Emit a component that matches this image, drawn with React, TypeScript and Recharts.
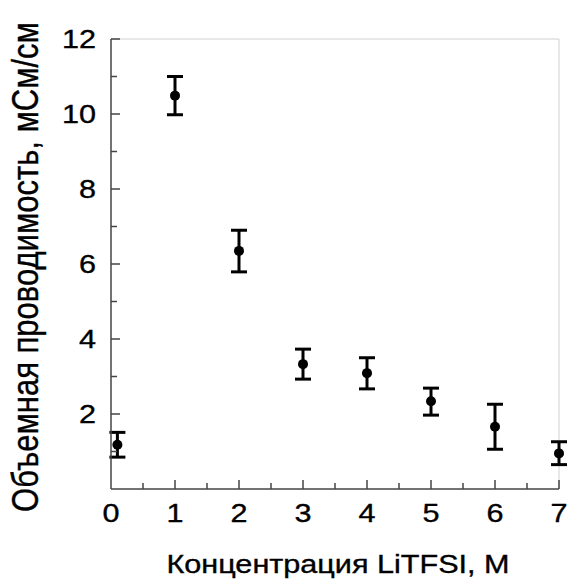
import React from 'react';
import { ScatterChart, Scatter, XAxis, YAxis, ErrorBar, ReferenceLine, Label } from 'recharts';

const concentrations = [0.1, 1, 2, 3, 4, 5, 6, 7];
const conductivity = [1.18, 10.49, 6.35, 3.33, 3.09, 2.34, 1.66, 0.95];
const errLow = [0.33, 0.51, 0.56, 0.4, 0.42, 0.37, 0.6, 0.3];
const errHigh = [0.33, 0.51, 0.55, 0.4, 0.41, 0.35, 0.6, 0.31];

const xTicks = [0, 0.5, 1, 1.5, 2, 2.5, 3, 3.5, 4, 4.5, 5, 5.5, 6, 6.5, 7];
const yTicks = [0, 1, 2, 3, 4, 5, 6, 7, 8, 9, 10, 11, 12];

const xTitle = 'Концентрация LiTFSI, M';
const yTitle = 'Объемная проводимость, мСм/см';

const data = concentrations.map((x, i) => ({
  x,
  y: conductivity[i],
  err: [errLow[i], errHigh[i]],
}));

const FONT = '"Liberation Sans", Arial, Helvetica, sans-serif';
const AXIS = '#444';
const SX = 1.2;
const TXT = { fontFamily: FONT, fill: '#000', stroke: '#000', strokeWidth: 0.35 };

const YTick = (props: any) => {
  const { x, y, payload } = props;
  const v = payload.value;
  if (v === 0) return <g />;
  const major = v % 2 === 0;
  return (
    <g>
      <line x1={x} x2={x + (major ? 9 : 6)} y1={y} y2={y} stroke={AXIS} strokeWidth={1.5} />
      {major && (
        <text
          transform={`translate(${x - 15},${y + 9}) scale(${SX},1)`}
          textAnchor="end"
          fontSize={25.5}
          {...TXT}
        >
          {v}
        </text>
      )}
    </g>
  );
};

const XTick = (props: any) => {
  const { x, y, payload } = props;
  const v = payload.value;
  const major = Number.isInteger(v);
  return (
    <g>
      {v !== 0 && (
        <line x1={x} x2={x} y1={y} y2={y - (major ? 9 : 6)} stroke={AXIS} strokeWidth={1.5} />
      )}
      {major && (
        <text
          transform={`translate(${x},${y + 33}) scale(${SX},1)`}
          textAnchor="middle"
          fontSize={25.5}
          {...TXT}
        >
          {v}
        </text>
      )}
    </g>
  );
};

const XTitle = (props: any) => {
  const vb = props.viewBox;
  return (
    <text
      transform={`translate(${vb.x + vb.width / 2 + 3},${vb.y + 84}) scale(${SX},1)`}
      textAnchor="middle"
      fontSize={25.5}
      {...TXT}
    >
      {xTitle}
    </text>
  );
};

const YTitle = (props: any) => {
  const vb = props.viewBox;
  return (
    <text
      transform={`translate(${vb.x + 38},${vb.y + vb.height / 2 + 3}) scale(${SX},1) rotate(-90)`}
      textAnchor="middle"
      fontSize={31}
      {...TXT}
    >
      {yTitle}
    </text>
  );
};

const Dot = (props: any) => <circle cx={props.cx} cy={props.cy} r={5} fill="#000" />;

export default function App() {
  return (
    <div style={{ position: 'absolute', left: 0, top: 0, background: '#fff' }}>
      <ScatterChart width={569} height={580} margin={{ top: 39, right: 10, left: 0, bottom: 0 }}>
        <ReferenceLine y={12} stroke="#d0d0d0" strokeWidth={1} />
        <ReferenceLine x={7} stroke="#d0d0d0" strokeWidth={1} />
        <XAxis
          type="number"
          dataKey="x"
          domain={[0, 7]}
          ticks={xTicks}
          interval={0}
          tickSize={0}
          tickMargin={0}
          tickLine={false}
          tick={<XTick />}
          height={91}
          axisLine={{ stroke: AXIS, strokeWidth: 1.5 }}
        >
          <Label content={<XTitle />} />
        </XAxis>
        <YAxis
          type="number"
          dataKey="y"
          domain={[0, 12]}
          ticks={yTicks}
          interval={0}
          tickSize={0}
          tickMargin={0}
          tickLine={false}
          tick={<YTick />}
          width={111}
          axisLine={{ stroke: AXIS, strokeWidth: 1.5 }}
        >
          <Label content={<YTitle />} />
        </YAxis>
        <Scatter data={data} dataKey="y" shape={<Dot />} isAnimationActive={false}>
          <ErrorBar dataKey="err" direction="y" width={8} strokeWidth={3} stroke="#000" />
        </Scatter>
      </ScatterChart>
    </div>
  );
}
